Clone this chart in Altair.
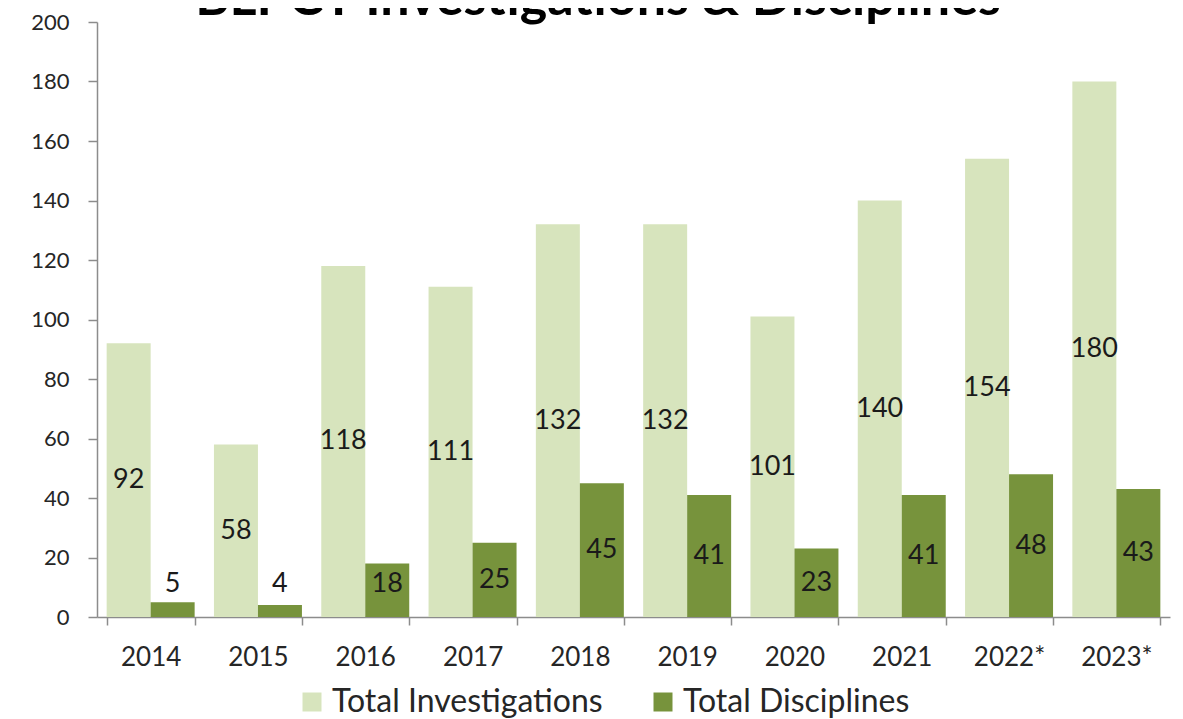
import altair as alt
import pandas as pd

years = ["2014", "2015", "2016", "2017", "2018", "2019", "2020", "2021", "2022*", "2023*"]
investigations = [92, 58, 118, 111, 132, 132, 101, 140, 154, 180]
disciplines = [5, 4, 18, 25, 45, 41, 23, 41, 48, 43]
series_names = ["Total Investigations", "Total Disciplines"]
colors = ["#d7e4bd", "#77933c"]
title_text = ["BLPCT Investigations & Disciplines"]

rows = []
for i, yr in enumerate(years):
    rows.append({"year": yr, "series": series_names[0], "value": investigations[i]})
    rows.append({"year": yr, "series": series_names[1], "value": disciplines[i]})
df = pd.DataFrame(rows)

FONT = "Lato"

x_enc = alt.X("year:N", sort=years, title=None,
              scale=alt.Scale(paddingInner=0.18, paddingOuter=0.09),
              axis=alt.Axis(labelAngle=0, labelFontSize=26, labelFont=FONT, labelColor="#262626",
                            domainColor="#8c8c8c", domainWidth=1.5, tickColor="#8c8c8c", tickWidth=1.5,
                            tickSize=8, tickBand="extent", labelPadding=19))
xoff = alt.XOffset("series:N", sort=series_names, scale=alt.Scale(paddingInner=0, paddingOuter=0))

bars = alt.Chart(df).mark_bar().encode(
    x=x_enc,
    xOffset=xoff,
    y=alt.Y("value:Q", title=None,
            scale=alt.Scale(domain=[0, 200], nice=False),
            axis=alt.Axis(values=list(range(0, 201, 20)), grid=False, labelFontSize=22, labelFont=FONT,
                          labelColor="#262626", domainColor="#8c8c8c", domainWidth=1.5,
                          tickColor="#8c8c8c", tickWidth=1.5, tickSize=9, labelPadding=19)),
    color=alt.Color("series:N", sort=series_names,
                    scale=alt.Scale(domain=series_names, range=colors),
                    legend=alt.Legend(orient="none", legendX=199, legendY=664, direction="horizontal",
                                      title=None, symbolType="square", symbolSize=361,
                                      symbolStrokeWidth=0, labelFontSize=32, labelFont=FONT,
                                      labelColor="#262626", labelLimit=600, columnPadding=44,
                                      labelOffset=4, padding=0)),
)

labels = alt.Chart(df).transform_calculate(
    ly="datum.series == 'Total Investigations' ? datum.value / 2 : max(datum.value / 2, 11)"
).mark_text(font=FONT, fontSize=27, color="#1a1a1a", baseline="middle").encode(
    x=alt.X("year:N", sort=years),
    xOffset=alt.XOffset("series:N", sort=series_names),
    y=alt.Y("ly:Q"),
    text=alt.Text("value:Q"),
)

title = alt.Chart(pd.DataFrame({"t": title_text})).mark_text(
    font=FONT, fontSize=52, fontWeight="bold", color="#000000", baseline="alphabetic", align="center"
).encode(
    text="t:N",
    x=alt.value(501),
    y=alt.value(-7),
)

chart = alt.layer(bars, labels, title).properties(
    width=1073,
    height=595,
    autosize=alt.AutoSizeParams(type="none"),
    padding={"left": 89, "top": 14, "right": 5, "bottom": 101},
).configure_view(stroke=None)

chart.save("out.html", embed_options={"renderer": "svg", "actions": False})
